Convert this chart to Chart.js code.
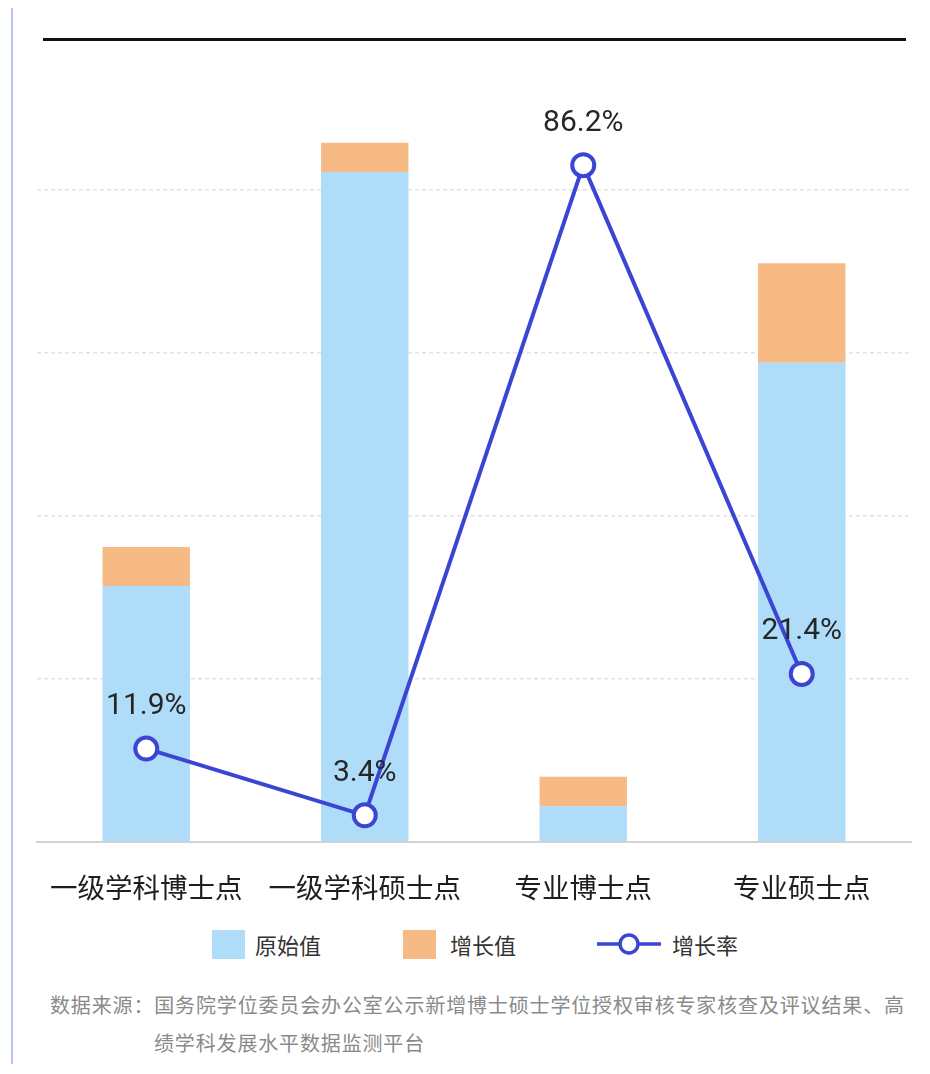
<!DOCTYPE html>
<html lang="zh-CN">
<head>
<meta charset="utf-8">
<title>新增学位授权点增长情况</title>
<script src="https://cdn.jsdelivr.net/npm/chart.js@4"></script>
<style>
    html, body {
        margin: 0;
        padding: 0;
        background: #ffffff;
    }
    body {
        width: 930px;
        height: 1074px;
        position: relative;
        overflow: hidden;
        font-family: "Noto Sans CJK SC", "Noto Sans", sans-serif;
    }
    .side-bar {
        position: absolute;
        left: 11px;
        top: 8px;
        width: 2px;
        height: 1056px;
        background: #b9c1f2;
    }
    .top-rule {
        position: absolute;
        left: 43px;
        top: 38px;
        width: 863px;
        height: 3px;
        background: #111111;
        z-index: 2;
    }
    .chart-box {
        position: absolute;
        left: 0;
        top: 0;
        width: 930px;
        height: 910px;
    }
    .legend {
        position: absolute;
        top: 928px;
        left: 0;
        width: 930px;
        height: 32px;
        font-size: 22px;
        color: #333333;
    }
    .legend-item {
        position: absolute;
        top: 0;
        height: 32px;
        line-height: 32px;
    }
    .legend-swatch {
        position: absolute;
        top: 2px;
        left: 0;
        width: 33px;
        height: 29px;
    }
    .legend-text {
        position: absolute;
        white-space: nowrap;
    }
    .source {
        position: absolute;
        left: 50px;
        top: 986px;
        width: 875px;
        font-size: 20px;
        letter-spacing: 0.85px;
        line-height: 38px;
        color: #8a8a8a;
        white-space: nowrap;
    }
    .source .indent {
        padding-left: 104px;
    }
</style>
</head>
<body>
<div class="side-bar"></div>
<div class="top-rule"></div>
<div class="chart-box"><canvas id="growthChart"></canvas></div>

<div class="legend">
    <div class="legend-item" style="left:212px">
        <span class="legend-swatch" style="background:#aedcf9"></span>
        <span class="legend-text" style="left:43px">原始值</span>
    </div>
    <div class="legend-item" style="left:403px">
        <span class="legend-swatch" style="background:#f8ba85"></span>
        <span class="legend-text" style="left:47px">增长值</span>
    </div>
    <div class="legend-item" style="left:596px">
        <canvas id="lineKey" width="66" height="32" style="position:absolute;left:0;top:0"></canvas>
        <span class="legend-text" style="left:76px">增长率</span>
    </div>
</div>

<div class="source">
    <div>数据来源：国务院学位委员会办公室公示新增博士硕士学位授权审核专家核查及评议结果、高</div>
    <div class="indent">绩学科发展水平数据监测平台</div>
</div>

<script>
// categories and series
const categories = ['一级学科博士点', '一级学科硕士点', '专业博士点', '专业硕士点'];
const baseValues = [157, 411, 22, 294];      // 原始值
const addedValues = [24, 18, 18, 61];        // 增长值
const growthRates = [11.9, 3.4, 86.2, 21.4]; // 增长率 (%)

const BLUE = '#aedcf9';
const ORANGE = '#f8ba85';
const LINE = '#3a46d3';

// percent labels above each point of the rate line
const rateLabels = {
    id: 'rateLabels',
    afterDatasetsDraw(chart) {
        const meta = chart.getDatasetMeta(2);
        const ctx = chart.ctx;
        ctx.save();
        ctx.font = '30px Roboto, "Noto Sans", sans-serif';
        ctx.fillStyle = '#262626';
        ctx.textAlign = 'center';
        ctx.textBaseline = 'middle';
        meta.data.forEach((pt, i) => {
            ctx.fillText(growthRates[i] + '%', pt.x, pt.y - 42);
        });
        ctx.restore();
    }
};

new Chart(document.getElementById('growthChart'), {
    data: {
        labels: categories,
        datasets: [
            {
                type: 'bar',
                label: '原始值',
                data: baseValues,
                backgroundColor: BLUE,
                stack: 'total',
                yAxisID: 'y',
                barPercentage: 0.4,
                categoryPercentage: 1,
                order: 2
            },
            {
                type: 'bar',
                label: '增长值',
                data: addedValues,
                backgroundColor: ORANGE,
                stack: 'total',
                yAxisID: 'y',
                barPercentage: 0.4,
                categoryPercentage: 1,
                order: 3
            },
            {
                type: 'line',
                label: '增长率',
                data: growthRates,
                yAxisID: 'y1',
                borderColor: LINE,
                borderWidth: 4,
                pointRadius: 11,
                pointBorderWidth: 4,
                pointBackgroundColor: '#ffffff',
                pointBorderColor: LINE,
                tension: 0,
                order: 0
            }
        ]
    },
    options: {
        responsive: true,
        maintainAspectRatio: false,
        animation: false,
        layout: {
            padding: { left: 37, right: 19, top: 27, bottom: 0 }
        },
        plugins: {
            legend: { display: false },
            tooltip: { enabled: false }
        },
        scales: {
            x: {
                stacked: true,
                grid: { display: false },
                border: { display: true, color: '#d2d2d2', width: 2 },
                ticks: {
                    color: '#1e1e1e',
                    padding: 21,
                    maxRotation: 0,
                    font: { size: 27.5, family: '"Noto Sans CJK SC", sans-serif' }
                },
                afterFit(scale) {
                    scale.height = 68;
                }
            },
            y: {
                stacked: true,
                min: 0,
                max: 500,
                ticks: { display: false, stepSize: 100 },
                border: { display: false, dash: [4, 3] },
                grid: {
                    drawTicks: false,
                    lineWidth: 1.5,
                    color: ctx => (ctx.tick && (ctx.tick.value === 0 || ctx.tick.value === 500)) ? 'rgba(0,0,0,0)' : '#e2e2e2'
                },
                afterFit(scale) {
                    scale.width = 0;
                }
            },
            y1: {
                position: 'right',
                min: 0,
                max: 103.8,
                display: false
            }
        }
    },
    plugins: [rateLabels]
});

// small line-with-marker key for the 增长率 legend entry
const key = document.getElementById('lineKey').getContext('2d');
key.strokeStyle = LINE;
key.lineWidth = 3.5;
key.beginPath();
key.moveTo(1, 16);
key.lineTo(65, 16);
key.stroke();
key.beginPath();
key.arc(33, 16, 9, 0, Math.PI * 2);
key.fillStyle = '#ffffff';
key.fill();
key.stroke();
</script>
</body>
</html>
